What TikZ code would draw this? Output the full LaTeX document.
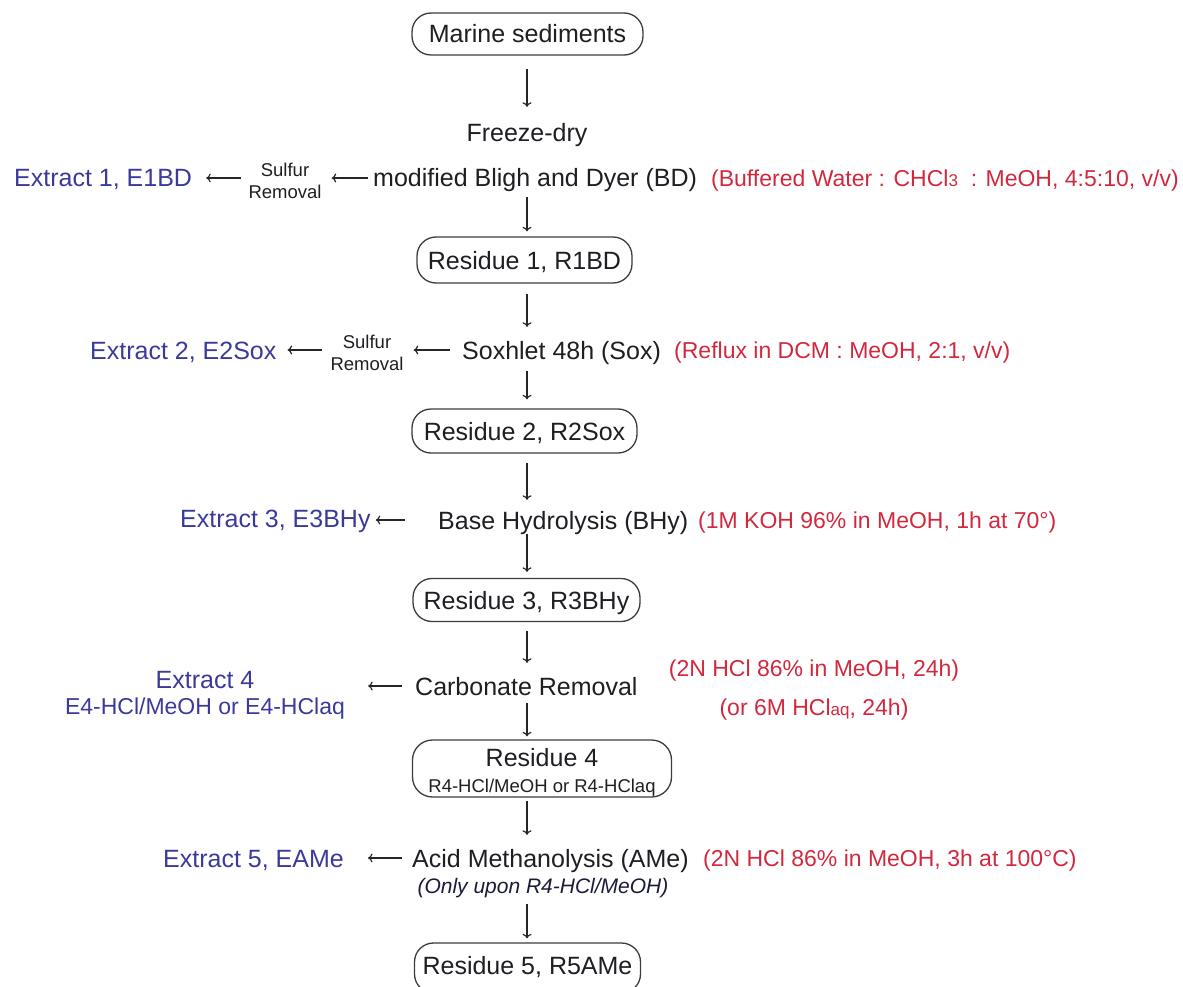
\documentclass[tikz,border=0pt]{standalone}
\usepackage{fontspec}
\setmainfont{Liberation Sans}
\usetikzlibrary{arrows.meta}
\definecolor{bluetxt}{RGB}{58,58,155}
\definecolor{redtxt}{RGB}{210,40,62}
\definecolor{blacktxt}{RGB}{30,30,35}
\definecolor{boxline}{RGB}{60,60,60}
\tikzset{
  big/.style={font=\fontsize{25}{29}\selectfont, text height=18pt, text depth=0pt, inner sep=0pt, text=blacktxt},
  ext/.style={big, text=bluetxt},
  cond/.style={font=\fontsize{23}{27}\selectfont, text height=16.5pt, text depth=0pt, inner sep=0pt, text=redtxt},
  small/.style={font=\fontsize{18.5}{22}\selectfont, inner sep=0pt, align=center, text=blacktxt},
  stadium/.style={draw=boxline, line width=1.3pt, rounded corners=19pt, inner sep=0pt,
     font=\fontsize{25}{29}\selectfont, text height=18pt, text depth=0pt, text=blacktxt},
  arr/.style={draw=black!85, line width=1.2pt, -{To[length=4.5pt,width=9pt]}},
}
\begin{document}
\begin{tikzpicture}[x=1pt,y=-1pt]
\useasboundingbox (0,0) rectangle (1183,987);
% main column
\node[stadium, minimum width=231pt, minimum height=42pt] (ms) at (527.5,34) {Marine sediments};
\node[big] (fd) at (527,133) {Freeze-dry};
\node[big, anchor=west] (bd) at (373,178) {modified Bligh and Dyer (BD)};
\node[cond, anchor=west] (c1) at (711,178) {(Buffered Water : CHCl{\fontsize{17}{18}\selectfont 3}\ \ : MeOH, 4:5:10, v/v)};
\node[small] (sr1) at (285,181) {Sulfur\\Removal};
\node[ext, anchor=west] (e1) at (14,178) {Extract 1, E1BD};
\node[stadium, minimum width=215pt, minimum height=46pt] (r1) at (524.5,260) {Residue 1, R1BD};
\node[big, anchor=west] (sox) at (462,350) {Soxhlet 48h (Sox)};
\node[cond, anchor=west] (c2) at (674,350) {(Reflux in DCM : MeOH, 2:1, v/v)};
\node[small] (sr2) at (367,353) {Sulfur\\Removal};
\node[ext, anchor=west] (e2) at (90,350) {Extract 2, E2Sox};
\node[stadium, minimum width=225pt, minimum height=44pt] (r2) at (524.5,431) {Residue 2, R2Sox};
\node[big, anchor=west] (bhy) at (438,520) {Base Hydrolysis (BHy)};
\node[cond, anchor=west] (c3) at (698,520) {(1M KOH 96\% in MeOH, 1h at 70°)};
\node[ext, anchor=west] (e3) at (180,518) {Extract 3, E3BHy};
\node[stadium, minimum width=227pt, minimum height=43pt] (r3) at (526.5,600) {Residue 3, R3BHy};
\node[big, anchor=west] (carb) at (415,686) {Carbonate Removal};
\node[cond, align=center, text height=, text depth=] (c4) at (814,690)
  {(2N HCl 86\% in MeOH, 24h)\\[12pt](or 6M HCl{\fontsize{17}{18}\selectfont aq}, 24h)};
\node[ext, align=center, text height=, text depth=] (e4) at (205,695)
  {Extract 4\\[-3pt]{\fontsize{23}{25}\selectfont E4-HCl/MeOH or E4-HClaq}};
\node[stadium, minimum width=259pt, minimum height=57pt, rounded corners=20pt] (r4) at (542,768.5) {};
\node[inner sep=0pt, align=center, font=\fontsize{25}{29}\selectfont, text=blacktxt] (r4t) at (542,772.5)
  {Residue 4\\[-3pt]{\fontsize{18.5}{22}\selectfont R4-HCl/MeOH or R4-HClaq}};
\node[big, anchor=west] (ame) at (412,858) {Acid Methanolysis (AMe)};
\node[cond, anchor=west] (c5) at (703,858) {(2N HCl 86\% in MeOH, 3h at 100°C)};
\node[font=\fontsize{21}{24}\selectfont\itshape, inner sep=0pt, text=blacktxt!90!blue] (only) at (543,888) {(Only upon R4-HCl/MeOH)};
\node[ext, anchor=west] (e5) at (163,858) {Extract 5, EAMe};
\node[stadium, minimum width=226pt, minimum height=50pt, text depth=6pt] (r5) at (527.5,968) {Residue 5, R5AMe};
\coordinate (col) at (527,0);
% vertical arrows
\draw[arr] ([yshift=-13pt]ms.south -| col) -- ([yshift=17pt]fd.north -| col);
\draw[arr] ([yshift=-10pt]bd.south -| col) -- ([yshift=5pt]r1.north -| col);
\draw[arr] ([yshift=-10pt]r1.south -| col) -- ([yshift=14pt]sox.north -| col);
\draw[arr] ([yshift=-12pt]sox.south -| col) -- ([yshift=9pt]r2.north -| col);
\draw[arr] ([yshift=-9pt]r2.south -| col) -- ([yshift=11pt]bhy.north -| col);
\draw[arr] ([yshift=-5pt]bhy.south -| col) -- ([yshift=6pt]r3.north -| col);
\draw[arr] ([yshift=-9pt]r3.south -| col) -- ([yshift=14pt]carb.north -| col);
\draw[arr] ([yshift=-8pt]carb.south -| col) -- ([yshift=3pt]r4.north -| col);
\draw[arr] ([yshift=-3pt]r4.south -| col) -- ([yshift=14pt]ame.north -| col);
\draw[arr] ([yshift=-6pt]only.south -| col) -- ([yshift=4pt]r5.north -| col);
% horizontal arrows
\draw[arr] ([xshift=-5pt]bd.west) -- ([xshift=10pt]sr1.east |- bd.west);
\draw[arr] ([xshift=-7pt]sr1.west |- bd.west) -- ([xshift=14pt]e1.east |- bd.west);
\draw[arr] ([xshift=-12pt]sox.west) -- ([xshift=10pt]sr2.east |- sox.west);
\draw[arr] ([xshift=-8pt]sr2.west |- sox.west) -- ([xshift=11pt]e2.east |- sox.west);
\draw[arr] ([xshift=-33pt]bhy.west) -- ([xshift=5pt]e3.east |- bhy.west);
\draw[arr] ([xshift=-13pt]carb.west) -- ([xshift=23pt]e4.east |- carb.west);
\draw[arr] ([xshift=-10pt]ame.west) -- ([xshift=24pt]e5.east |- ame.west);
\end{tikzpicture}
\end{document}
